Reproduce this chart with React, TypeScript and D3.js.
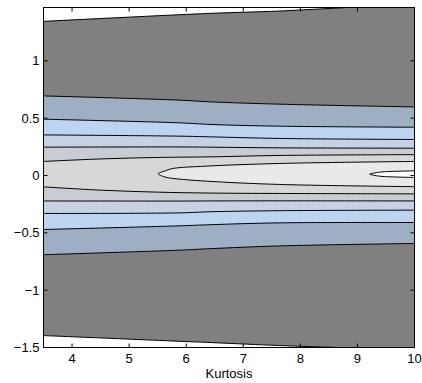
import React from 'react';
import * as d3 from 'd3';

type Pt = [number, number];

// ---- axis data ----
const xDomain: [number, number] = [3.5, 10];
const yDomain: [number, number] = [-1.5, 1.465];
const xTicks = [4, 5, 6, 7, 8, 9, 10];
const yTicks = [-1.5, -1, -0.5, 0, 0.5, 1];
const xLabel = 'Kurtosis';

// ---- contour boundaries (kurtosis, value) ----
const level1Upper: Pt[] = [[3.5, 1.344], [6.43, 1.414], [7.64, 1.434], [8.87, 1.466], [10, 1.486]];
const level1Lower: Pt[] = [[3.5, -1.396], [6.43, -1.457], [7.64, -1.483], [8.65, -1.5], [10, -1.52]];
const level2Upper: Pt[] = [[3.5, 0.694], [5.89, 0.657], [6.43, 0.642], [7.64, 0.622], [10, 0.598]];
const level2Lower: Pt[] = [[3.5, -0.691], [5.89, -0.651], [6.43, -0.638], [7.64, -0.614], [10, -0.593]];
const level3Upper: Pt[] = [[3.5, 0.491], [5.89, 0.459], [6.43, 0.445], [7.64, 0.43], [10, 0.421]];
const level3Lower: Pt[] = [[3.5, -0.471], [5.89, -0.439], [6.43, -0.429], [7.64, -0.413], [10, -0.41]];
const level4Upper: Pt[] = [[3.5, 0.354], [5.89, 0.343], [6.43, 0.337], [7.64, 0.323], [10, 0.314]];
const level4Lower: Pt[] = [[3.5, -0.331], [5.89, -0.326], [6.43, -0.316], [7.64, -0.307], [10, -0.302]];
const level5Upper: Pt[] = [[3.5, 0.247], [5.89, 0.249], [6.43, 0.247], [7.64, 0.241], [10, 0.238]];
const level5Lower: Pt[] = [[3.5, -0.222], [5.89, -0.223], [6.43, -0.222], [7.64, -0.221], [10, -0.222]];
const level6Upper: Pt[] = [[3.5, 0.1225], [4.5, 0.1443], [5.5, 0.1574], [6.43, 0.1626], [7.64, 0.1748], [10, 0.1818]];
const level6Lower: Pt[] = [[3.5, -0.0991], [4.5, -0.1279], [5.5, -0.1453], [6.43, -0.1532], [7.64, -0.1567], [10, -0.1602]];
// closed tongues opening to the right edge
const level7Upper: Pt[] = [[5.509, 0.0152], [5.627, 0.0396], [5.772, 0.0614], [6.357, 0.0815], [7.64, 0.105], [10, 0.1225]];
const level7Lower: Pt[] = [[5.509, 0.0152], [5.627, -0.0127], [5.772, -0.0258], [6.357, -0.0494], [7.64, -0.0782], [10, -0.0973]];
const level8Upper: Pt[] = [[9.215, 0.0117], [9.302, 0.0222], [9.448, 0.0318], [10, 0.0405]];
const level8Lower: Pt[] = [[9.215, 0.0117], [9.302, 0.0003], [9.448, -0.0084], [10, -0.0171]];

const levelFills = ['#808080', '#9fafc3', '#bcd4ef', '#c4d2e4', '#c9cdd3', '#d7d7d7', '#e9e9e9', '#ffffff'];

const bands: [Pt[], Pt[]][] = [
  [level1Upper, level1Lower],
  [level2Upper, level2Lower],
  [level3Upper, level3Lower],
  [level4Upper, level4Lower],
  [level5Upper, level5Lower],
  [level6Upper, level6Lower],
];
const tongues: [Pt[], Pt[]][] = [
  [level7Upper, level7Lower],
  [level8Upper, level8Lower],
];

const W = 422;
const H = 383;
const plot = { left: 43.5, right: 414.5, top: 7.5, bottom: 347.5 };
const FONT = '"Liberation Sans", Arial, Helvetica, sans-serif';
const FS = 13;

export default function App() {
  const x = d3.scaleLinear().domain(xDomain).range([plot.left, plot.right]);
  const y = d3.scaleLinear().domain(yDomain).range([plot.bottom, plot.top]);
  const line = d3
    .line<Pt>()
    .x((d) => x(d[0]))
    .y((d) => y(d[1]))
    .curve(d3.curveCatmullRom);

  const bandPaths = bands.map(([up, lo]) => {
    const a = line(up) as string;
    const b = (line(lo.slice().reverse()) as string).replace(/^M/, 'L');
    return a + b + 'Z';
  });
  const tonguePaths = tongues.map(([up, lo]) => {
    const pts = up.slice().reverse().concat(lo.slice(1));
    return (line(pts) as string) + 'Z';
  });
  const allFills = bandPaths.concat(tonguePaths);

  const fmt = (v: number) => (v < 0 ? '\u2212' + String(-v) : String(v));
  const tickLen = 4;

  return (
    <svg
      width={W}
      height={H}
      style={{ position: 'absolute', left: 0, top: 0, background: '#fff' }}
      fontFamily={FONT}
    >
      <defs>
        <clipPath id="plotClip">
          <rect x={plot.left} y={plot.top} width={plot.right - plot.left} height={plot.bottom - plot.top} />
        </clipPath>
      </defs>
      <rect x={0} y={0} width={W} height={H} fill="#fff" />
      <g clipPath="url(#plotClip)">
        <rect x={plot.left} y={plot.top} width={plot.right - plot.left} height={plot.bottom - plot.top} fill="#fff" />
        {allFills.map((p, i) => (
          <path key={'f' + i} d={p} fill={levelFills[i]} stroke="none" />
        ))}
        {allFills.map((p, i) => (
          <path key={'s' + i} d={p} fill="none" stroke="#000" strokeWidth={1} />
        ))}
      </g>
      <rect
        x={plot.left}
        y={plot.top}
        width={plot.right - plot.left}
        height={plot.bottom - plot.top}
        fill="none"
        stroke="#000"
        strokeWidth={1}
      />
      {xTicks.map((t) => (
        <g key={'xt' + t}>
          <line x1={x(t)} x2={x(t)} y1={plot.bottom} y2={plot.bottom - tickLen} stroke="#000" />
          <line x1={x(t)} x2={x(t)} y1={plot.top} y2={plot.top + tickLen} stroke="#000" />
          <text x={x(t)} y={plot.bottom + 15.5} textAnchor="middle" fontSize={FS} fill="#000">
            {fmt(t)}
          </text>
        </g>
      ))}
      {yTicks.map((t) => (
        <g key={'yt' + t}>
          <line x1={plot.left} x2={plot.left + tickLen} y1={y(t)} y2={y(t)} stroke="#000" />
          <line x1={plot.right} x2={plot.right - tickLen} y1={y(t)} y2={y(t)} stroke="#000" />
          <text x={plot.left - 4} y={y(t)} dy="0.35em" textAnchor="end" fontSize={FS} fill="#000">
            {fmt(t)}
          </text>
        </g>
      ))}
      <text x={(plot.left + plot.right) / 2} y={378} textAnchor="middle" fontSize={FS} fill="#000">
        {xLabel}
      </text>
    </svg>
  );
}
